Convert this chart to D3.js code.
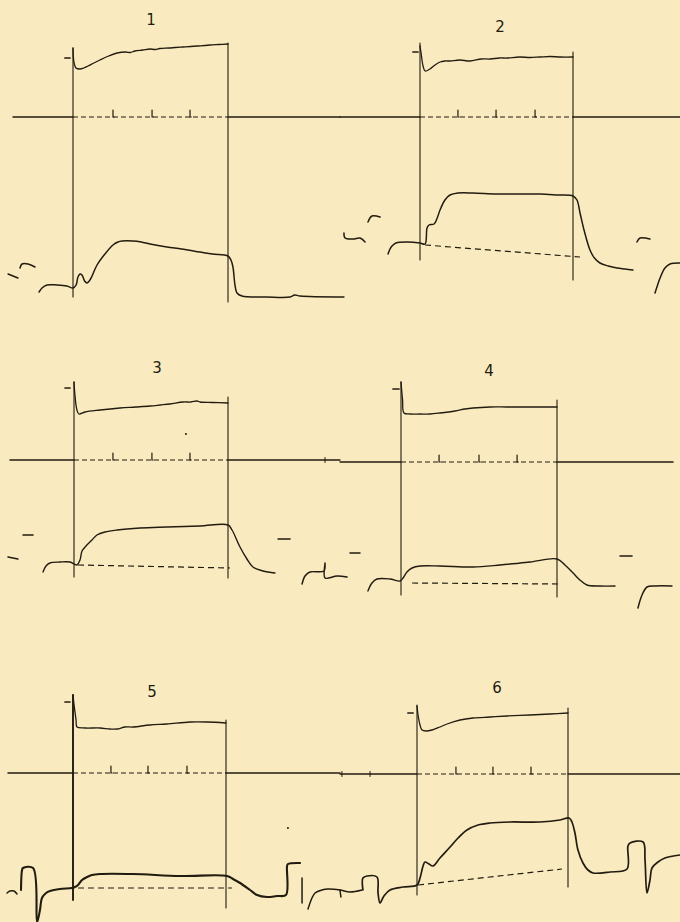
<!DOCTYPE html>
<html><head><meta charset="utf-8">
<script src="https://cdn.jsdelivr.net/npm/d3@7"></script>
<style>html,body{margin:0;padding:0;background:#f9ebbf;}svg{display:block}</style>
</head><body><svg id="c" width="680" height="922"></svg>
<script>
// ---------- DATA (time in ms from stimulus onset, deflection in units from baseline) ----------
const panelLabels = ["1", "2", "3", "4", "5", "6"];
const stimulus = [0, 1000];

const p1Ticks = [258, 510, 755];
const p2Ticks = [248, 497, 752];
const p3Ticks = [253, 506, 753];
const p4Ticks = [244, 500, 744];
const p5Ticks = [248, 490, 745];
const p6Ticks = [258, 503, 755];

const p1Top = [[0,69],[6,55],[19,49],[45,48],[70,49],[97,51],[135,54],[174,57],[230,61],[284,64],[340,65],[370,64.5],[400,66],[450,67],[497,68],[530,67.5],[560,68.5],[620,69],[660,69.5],[710,70],[760,70.5],[800,71],[850,71.5],[884,72],[940,72.5],[1000,73]];
const p1Bottom = [[-219,-175],[-200,-171],[-168,-168],[-103,-168],[-39,-169],[0,-171],[20,-168],[32,-160],[45,-157],[58,-158],[75,-164],[90,-166],[105,-164],[123,-159],[155,-148],[206,-137],[258,-128],[290,-125],[316,-124],[387,-124],[440,-125],[497,-127],[606,-130],[700,-132],[819,-135],[900,-137],[1000,-139],[1019,-143],[1032,-150],[1045,-168],[1058,-176],[1090,-179],[1250,-180],[1400,-180],[1430,-178],[1465,-179],[1748,-180]];
const p1Frags = [[[-419,-157],[-355,-161]],[[-342,-151],[-329,-147],[-290,-147],[-245,-150]]];
const p1Marker = [[-52,59],[-19,59]];

const p2Top = [[0,71],[7,64],[20,51],[33,46],[65,48],[98,52],[131,55],[163,56],[196,56],[260,57],[327,56],[400,58],[458,58],[520,59],[569,59],[650,60],[720,59.5],[784,60],[850,60.5],[920,60],[1000,60]];
const p2Bottom = [[-209,-137],[-196,-132],[-183,-129],[-157,-126],[-85,-125],[0,-126],[33,-127],[46,-111],[59,-108],[92,-107],[110,-102],[131,-93],[163,-83],[196,-78],[248,-76],[346,-76],[500,-77],[650,-77],[784,-77],[900,-78],[1000,-79],[1026,-83],[1046,-96],[1072,-113],[1111,-133],[1140,-141],[1176,-146],[1230,-149],[1288,-151],[1340,-152],[1392,-153]];
const p2Dash = [[33,-128],[1046,-140]];
const p2Frags = [[[-497,-116],[-490,-121],[-438,-122],[-392,-121],[-359,-125]],[[-340,-105],[-314,-99],[-261,-100]],[[1418,-125],[1438,-121],[1503,-122]],[[1536,-176],[1553,-168],[1569,-161],[1601,-151],[1634,-147],[1699,-146]]];
const p2Marker = [[-46,65],[-13,65]];

const p3Top = [[0,78],[6,65],[19,50],[32,46],[71,48],[169,50],[299,52],[400,53],[494,54],[560,55],[623,56],[708,58],[760,58],[799,59],[818,58],[900,57.5],[1000,57]];
const p3Bottom = [[-201,-112],[-182,-106],[-156,-103],[-91,-102],[-26,-102],[19,-105],[39,-100],[52,-91],[78,-86],[117,-80],[149,-75],[201,-72],[279,-70],[429,-68],[604,-67],[818,-66],[1000,-65],[1026,-70],[1078,-87],[1123,-99],[1162,-107],[1227,-111],[1305,-113]];
const p3Dash = [[26,-105],[1013,-108]];
const p3Frags = [[[-429,-97],[-364,-99]],[[-331,-75],[-266,-75]],[[1325,-79],[1403,-79]],[[1481,-124],[1500,-116],[1532,-112],[1623,-111],[1630,-103],[1630,-118],[1708,-116],[1773,-117]]];
const p3Marker = [[-58,72],[-26,72]];

const p4Top = [[0,80],[10,62],[19,49],[58,48],[122,48],[186,48],[250,49],[346,51],[410,53],[462,54],[571,55],[679,55],[827,55],[1000,55]];
const p4Bottom = [[-212,-129],[-186,-121],[-154,-117],[-71,-117],[-6,-119],[13,-116],[38,-110],[71,-106],[122,-104],[250,-104],[462,-105],[635,-103],[827,-100],[1000,-97],[1051,-103],[1103,-111],[1147,-118],[1192,-123],[1276,-124],[1372,-124]];
const p4Dash = [[71,-121],[1019,-122]];
const p4Frags = [[[-327,-91],[-263,-91]],[[1404,-94],[1481,-94]],[[1519,-146],[1545,-133],[1577,-125],[1628,-124],[1737,-124]]];
const p4Marker = [[-51,73],[-13,73]];

const p5Top = [[0,78],[7,68],[20,53],[26,46],[78,45],[176,45],[242,44],[288,44],[340,46],[392,46],[503,48],[614,49],[765,51],[876,51],[1000,50]];
const p5Bottom = [[-340,-117],[-333,-97],[-327,-95],[-261,-95],[-235,-149],[-216,-137],[-203,-125],[-176,-120],[-150,-118],[-85,-116],[-7,-115],[13,-114],[33,-112],[59,-107],[92,-104],[124,-102],[176,-101],[392,-101],[699,-103],[1007,-103],[1046,-106],[1092,-110],[1157,-117],[1203,-122],[1268,-124],[1333,-123],[1392,-122],[1399,-93],[1405,-91],[1484,-90]];
const p5Dash = [[33,-115],[1039,-115]];
const p5Frags = [[[-431,-120],[-412,-118],[-386,-118],[-366,-121]],[[1497,-105],[1497,-130]],[[1536,-136],[1562,-125],[1582,-120],[1627,-117],[1667,-116],[1745,-117],[1810,-119],[1889,-117]],[[1745,-117],[1751,-124]]];
const p5Marker = [[-52,71],[-20,71]];

const p6Top = [[0,68],[7,59],[20,49],[33,44],[60,43],[99,44],[152,47],[199,50],[285,54],[371,56],[483,57],[596,58],[748,59],[881,60],[1000,61]];
const p6Bottom = [[-358,-116],[-358,-104],[-331,-102],[-265,-103],[-258,-119],[-245,-129],[-219,-122],[-179,-116],[-93,-113],[0,-111],[20,-104],[40,-92],[53,-88],[79,-90],[106,-92],[152,-84],[219,-73],[272,-64],[331,-56],[404,-51],[483,-49],[616,-48],[815,-48],[947,-46],[1007,-44],[1026,-48],[1046,-59],[1066,-76],[1099,-89],[1132,-96],[1166,-99],[1278,-98],[1391,-95],[1397,-72],[1411,-69],[1497,-68],[1510,-86],[1523,-119],[1543,-106],[1556,-94],[1596,-88],[1642,-84],[1742,-81]];
const p6Dash = [[7,-111],[960,-95]];
const p6Frags = [];
const p6Marker = [[-60,61],[-26,61]];

const p3Dots = [[727,26]];
const p5Dots = [[1405,-55]];
const p3LineTicks = [1630];
const p6LineTicks = [-497, -311];

// ---------- LAYOUT ----------
const panels = [
  {label:0, x0:73,  x1:228, base:117, line:[-387,1723], vL:[69,-180], vR:[74,-185], lab:[503,97], top:p1Top, bot:p1Bottom, dash:null,   frags:p1Frags, marker:p1Marker, ticks:p1Ticks, dots:[], lticks:[], botW:1.5, vLW:1.1},
  {label:1, x0:420, x1:573, base:117, line:[-523,1699], vL:[74,-143], vR:[65,-163], lab:[523,90], top:p2Top, bot:p2Bottom, dash:p2Dash, frags:p2Frags, marker:p2Marker, ticks:p2Ticks, dots:[], lticks:[], botW:1.5, vLW:1.1},
  {label:2, x0:74,  x1:228, base:460, line:[-416,1727], vL:[78,-117], vR:[63,-118], lab:[539,92], top:p3Top, bot:p3Bottom, dash:p3Dash, frags:p3Frags, marker:p3Marker, ticks:p3Ticks, dots:p3Dots, lticks:p3LineTicks, botW:1.4, vLW:1.1},
  {label:3, x0:401, x1:557, base:462, line:[-391,1744], vL:[80,-133], vR:[62,-135], lab:[564,91], top:p4Top, bot:p4Bottom, dash:p4Dash, frags:p4Frags, marker:p4Marker, ticks:p4Ticks, dots:[], lticks:[], botW:1.4, vLW:1.1},
  {label:4, x0:73,  x1:226, base:773, line:[-425,1745], vL:[78,-127], vR:[53,-135], lab:[516,81], top:p5Top, bot:p5Bottom, dash:p5Dash, frags:p5Frags, marker:p5Marker, ticks:p5Ticks, dots:p5Dots, lticks:[], botW:2.1, vLW:1.9},
  {label:5, x0:417, x1:568, base:774, line:[-510,1742], vL:[69,-121], vR:[66,-113], lab:[530,86], top:p6Top, bot:p6Bottom, dash:p6Dash, frags:p6Frags, marker:p6Marker, ticks:p6Ticks, dots:[], lticks:p6LineTicks, botW:1.7, vLW:1.1}
];

const ink = "#221b10";
const svg = d3.select("#c");
svg.append("rect").attr("width",680).attr("height",922).attr("fill","#f9ebbf");

panels.forEach(p => {
  const x = d3.scaleLinear().domain(stimulus).range([p.x0, p.x1]);
  const y = d3.scaleLinear().domain([0, 100]).range([p.base, p.base - 100]);
  const line = d3.line().x(d => x(d[0])).y(d => y(d[1]));
  const smooth = d3.line().x(d => x(d[0])).y(d => y(d[1])).curve(d3.curveCatmullRom.alpha(0.5));
  const g = svg.append("g").attr("fill","none").attr("stroke",ink).attr("stroke-linejoin","round").attr("stroke-linecap","round");

  // baseline: solid outside, dashed inside stimulus
  g.append("path").attr("d", line([[p.line[0],0],[0,0]])).attr("stroke-width",1.4);
  g.append("path").attr("d", line([[1000,0],[p.line[1],0]])).attr("stroke-width",1.4);
  g.append("path").attr("d", line([[0,0],[1000,0]])).attr("stroke-width",1.2).attr("stroke-dasharray","5,3").attr("stroke-linecap","butt");
  // time ticks
  p.ticks.forEach(t => {
    g.append("path").attr("d", line([[t,7],[t,0],[t+8,0]])).attr("stroke-width",1.2);
  });
  p.lticks.forEach(t => {
    g.append("path").attr("d", line([[t,2.5],[t,-2.5]])).attr("stroke-width",1);
  });
  // stimulus verticals
  g.append("path").attr("d", line([[0,p.vL[0]],[0,p.vL[1]]])).attr("stroke-width",p.vLW);
  g.append("path").attr("d", line([[1000,p.vR[0]],[1000,p.vR[1]]])).attr("stroke-width",1.1);
  // traces
  g.append("path").attr("d", smooth(p.top)).attr("stroke-width",1.3);
  g.append("path").attr("d", smooth(p.bot)).attr("stroke-width",p.botW);
  if (p.dash) g.append("path").attr("d", line(p.dash)).attr("stroke-width",1.2).attr("stroke-dasharray","6,4").attr("stroke-linecap","butt");
  p.frags.forEach(f => g.append("path").attr("d", smooth(f)).attr("stroke-width",1.5));
  g.append("path").attr("d", line(p.marker)).attr("stroke-width",1.7);
  p.dots.forEach(d => g.append("circle").attr("cx",x(d[0])).attr("cy",y(d[1])).attr("r",1).attr("fill",ink).attr("stroke","none"));
  // label
  svg.append("text").attr("x", x(p.lab[0])).attr("y", y(p.lab[1]))
    .attr("text-anchor","middle").attr("dominant-baseline","central")
    .attr("font-family","DejaVu Sans, sans-serif").attr("font-size",15).attr("fill",ink)
    .text(panelLabels[p.label]);
});
</script></body></html>
